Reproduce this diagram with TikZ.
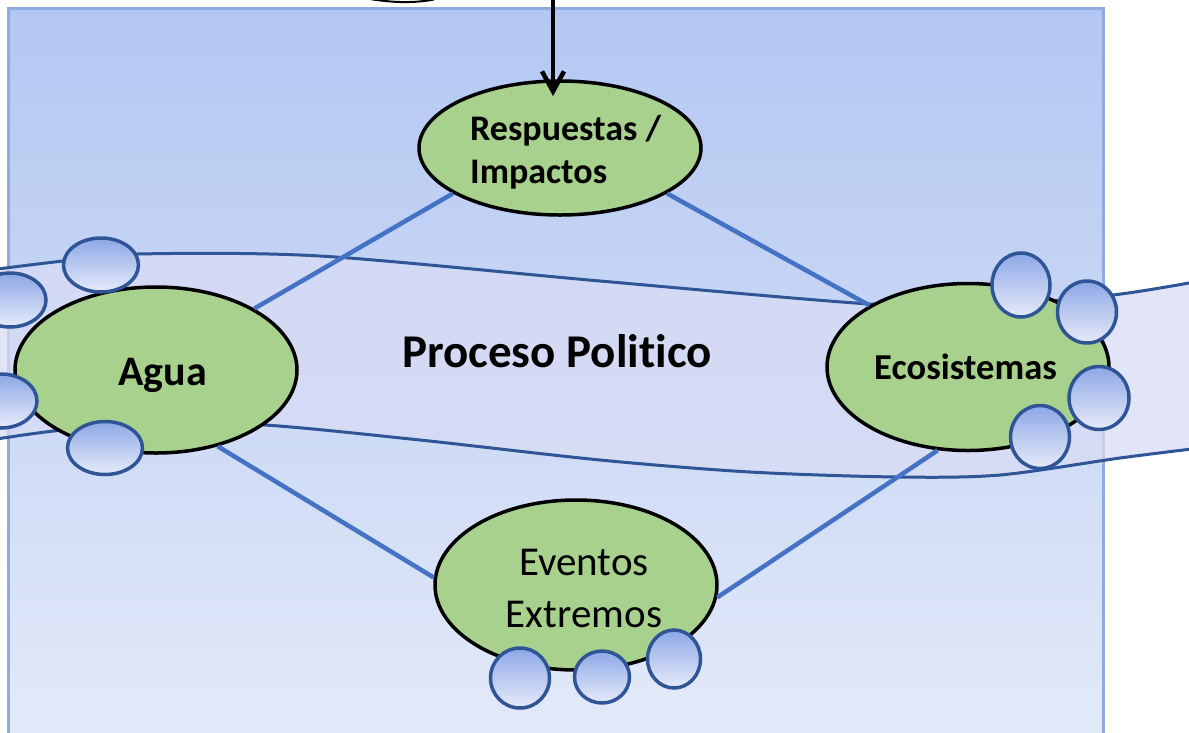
\documentclass[tikz,border=0pt]{standalone}
\usepackage{fontspec}
\setmainfont{Carlito}[Ligatures={NoCommon,NoRare}]
\usetikzlibrary{shapes.geometric,arrows.meta}
\definecolor{bgTop}{HTML}{B3C7F2}
\definecolor{bgBot}{HTML}{E3EAF9}
\definecolor{bgEdge}{HTML}{8FAADC}
\definecolor{greenA}{HTML}{A9D18E}
\definecolor{edgeB}{HTML}{2F5597}
\definecolor{sTop}{HTML}{8DA7E6}
\definecolor{sBot}{HTML}{E6EBF9}
\definecolor{linkc}{HTML}{4472C4}
\definecolor{bandc}{HTML}{D8DCF4}
\tikzset{
  bigell/.style={ellipse, draw=black, line width=3.5pt, fill=greenA, inner sep=0pt},
  smallell/.style={ellipse, draw=edgeB, line width=3.5pt, top color=sTop, bottom color=sBot, inner sep=0pt},
  link/.style={draw=linkc, line width=4.5pt},
  bandline/.style={draw=edgeB, line width=3pt},
  bandfill/.style={fill=bandc, fill opacity=0.75},
  lbl/.style={inner sep=0pt, anchor=base west},
}
\begin{document}
\begin{tikzpicture}[x=1pt,y=-1pt]
\useasboundingbox (0,0) rectangle (1189,732);
% background panel
\path[top color=bgTop, bottom color=bgBot, draw=bgEdge, line width=3pt] (8,8) rectangle (1103,745);
% band
\fill[bandfill] plot[smooth] coordinates {(-10,270) (63,261) (137,254) (320,256) (600,281) (870,304) (990,305) (1113,295) (1200,281)}
  -- plot[smooth] coordinates {(1200,448) (1120,458) (1000,475) (897,477) (750,472) (600,460) (420,440) (265,425) (160,424) (63,430) (-10,440)} -- cycle;
\draw[bandline] plot[smooth] coordinates {(-10,270) (63,261) (137,254) (320,256) (600,281) (870,304) (990,305) (1113,295) (1200,281)};
\draw[bandline] plot[smooth] coordinates {(1200,448) (1120,458) (1000,475) (897,477) (750,472) (600,460) (420,440) (265,425) (160,424) (63,430) (-10,440)};
% main ellipses
\node[bigell, minimum width=282pt, minimum height=134pt] (resp) at (560,148) {};
\node[bigell, minimum width=282pt, minimum height=166pt] (agua) at (156,370) {};
\node[bigell, minimum width=282pt, minimum height=167pt] (eco) at (968,367) {};
\node[bigell, minimum width=282pt, minimum height=170pt] (ev) at (576,585) {};
% connectors
\draw[link] (resp.203) -- (agua.32);
\draw[link] (resp.-23) -- (eco.148);
\draw[link] (agua.-51) -- (ev.177);
\draw[link] (ev.-5) -- (eco.250);
% small ellipses left
\node[smallell, minimum width=75pt, minimum height=54pt] (l1) at (101,265) {};
\node[smallell, minimum width=72pt, minimum height=54pt] (l2) at (10,300) {};
\node[smallell, minimum width=72pt, minimum height=54pt] (l3) at (1,401) {};
\node[smallell, minimum width=75pt, minimum height=53pt] (l4) at (105,448) {};
% small ellipses right
\node[smallell, minimum width=58pt, minimum height=64pt] (r1) at (1021,285) {};
\node[smallell, minimum width=59pt, minimum height=62pt] (r2) at (1087,312) {};
\node[smallell, minimum width=60pt, minimum height=63pt] (r3) at (1099,398) {};
\node[smallell, minimum width=59pt, minimum height=63pt] (r4) at (1040,437) {};
% small ellipses bottom
\node[smallell, minimum width=59pt, minimum height=60pt] (b1) at (520,678) {};
\node[smallell, minimum width=55pt, minimum height=52pt] (b2) at (602,677) {};
\node[smallell, minimum width=53pt, minimum height=58pt] (b3) at (674,659) {};
% texts
\node[lbl] (t1) at (470,140) {\fontsize{36}{42}\selectfont\bfseries Respuestas /};
\node[lbl] (t2) at (470,183) {\fontsize{36}{42}\selectfont\bfseries Impactos};
\node[lbl] (t3) at (118,385) {\fontsize{42}{50}\selectfont\bfseries Agua};
\node[lbl] (t4) at (874,379) {\fontsize{36.5}{42}\selectfont\bfseries Ecosistemas};
\node[lbl] (t5) at (402,367) {\fontsize{47}{54}\selectfont\bfseries Proceso Politico};
\node[inner sep=0pt, anchor=base] (t6) at (584,575) {\fontsize{41}{48}\selectfont Eventos};
\node[inner sep=0pt, anchor=base] (t7) at (584,627) {\fontsize{41}{48}\selectfont Extremos};
% top arrow
\coordinate (src) at (553,-5);
\coordinate (tipend) at (553,96);
\draw[line width=4.5pt, -{Straight Barb[length=20pt,width=22pt]}] (src) -- (tipend);
% fragment at top edge
\coordinate (fa) at (370,-1);
\coordinate (fb) at (434,-0.5);
\draw[line width=2pt] (fa) .. controls (395,3) and (415,3) .. (fb);
\end{tikzpicture}
\end{document}
